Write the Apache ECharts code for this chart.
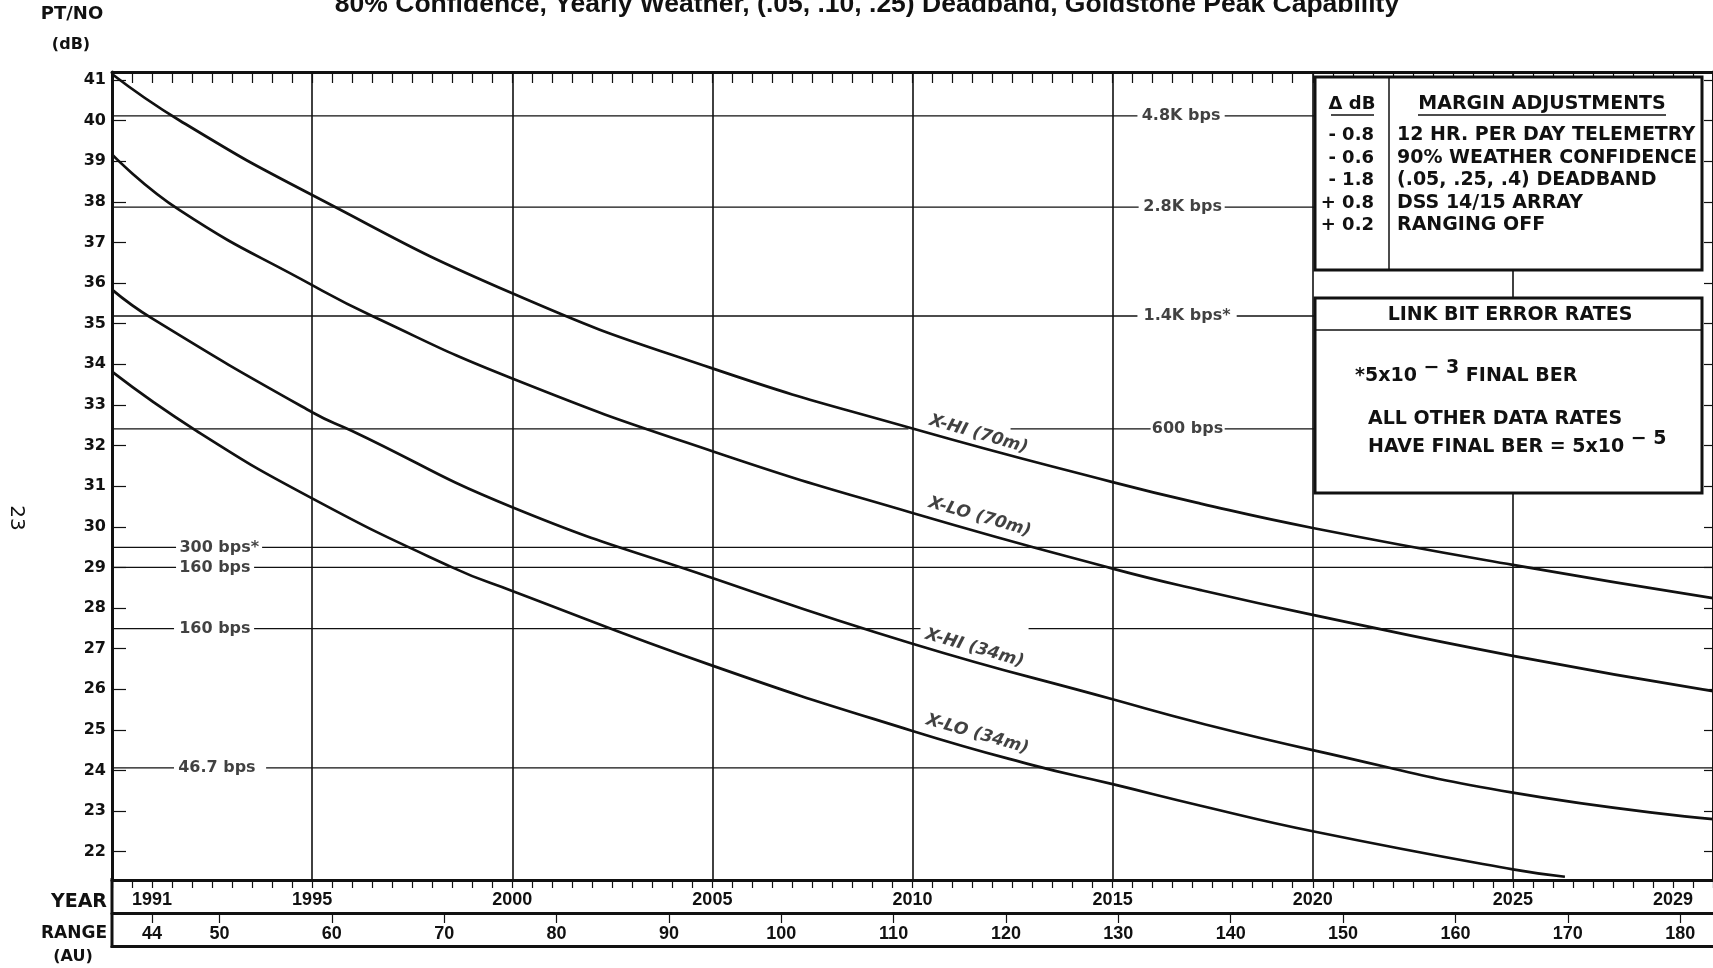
<!DOCTYPE html>
<html><head><meta charset="utf-8">
<script src="https://cdn.jsdelivr.net/npm/echarts@6/dist/echarts.min.js"></script>
<style>html,body{margin:0;padding:0;background:#fff}#c{width:1713px;height:968px}</style>
</head><body><div id="c"></div>
<script>
// ---------------- DATA ----------------
const curveNames = ['X-HI (70m)', 'X-LO (70m)', 'X-HI (34m)', 'X-LO (34m)'];
const xhi70Years = [1990, 1991.7, 1995, 2000, 2005, 2010, 2015, 2017.2, 2020, 2025, 2030];
const xhi70Db    = [41.15, 40.0, 38.17, 35.75, 33.9, 32.42, 31.1, 30.57, 29.97, 29.06, 28.24];
const xlo70Years = [1990, 1991.7, 1995, 1996.5, 2000, 2005, 2010, 2015, 2017.2, 2020, 2025, 2030];
const xlo70Db    = [39.17, 37.79, 35.95, 35.19, 33.65, 31.86, 30.34, 28.97, 28.44, 27.83, 26.82, 25.95];
const xhi34Years = [1990, 1991, 1995, 1996, 2000, 2005, 2010, 2015, 2017.2, 2020, 2025, 2030];
const xhi34Db    = [35.84, 35.13, 32.82, 32.36, 30.48, 28.74, 27.12, 25.75, 25.16, 24.5, 23.45, 22.8];
const xlo34Years = [1990, 1992.1, 1995, 1998.5, 2000, 2005, 2010, 2013, 2015, 2017.2, 2020, 2025, 2026.3];
const xlo34Db    = [33.82, 32.37, 30.7, 29.0, 28.42, 26.58, 24.97, 24.13, 23.66, 23.13, 22.5, 21.56, 21.38];

const rateNames = ['4.8K bps', '2.8K bps', '1.4K bps*', '600 bps', '300 bps*', '160 bps', '160 bps', '46.7 bps'];
const rateDb    = [40.12, 37.87, 35.19, 32.41, 29.49, 29.0, 27.49, 24.06];

const yTickValues  = [22,23,24,25,26,27,28,29,30,31,32,33,34,35,36,37,38,39,40,41];
const yearLabels   = [1991, 1995, 2000, 2005, 2010, 2015, 2020, 2025, 2029];
const rangeLabels  = [44, 50, 60, 70, 80, 90, 100, 110, 120, 130, 140, 150, 160, 170, 180];
// range axis extents (AU) at the year-axis ends 1990 and 2030
const RANGE_AT_1990 = 40.44, RANGE_AT_2030 = 182.92;

const marginDb   = ['- 0.8', '- 0.6', '- 1.8', '+ 0.8', '+ 0.2'];
const marginText = ['12 HR. PER DAY TELEMETRY', '90% WEATHER CONFIDENCE', '(.05, .25, .4) DEADBAND', 'DSS 14/15 ARRAY', 'RANGING OFF'];

const TITLE = '80% Confidence, Yearly Weather, (.05, .10, .25) Deadband, Goldstone Peak Capability';

// ---------------- LAYOUT (positions, not data) ----------------
const rateLayout = [
  {segs: [[1990, 2015.62], [2017.8, 2020.05]], lx: 2016.71},
  {segs: [[1990, 2015.65], [2017.8, 2020.05]], lx: 2016.75},
  {segs: [[1990, 2015.62], [2018.1, 2020.05]], lx: 2016.86},
  {segs: [[1990, 2009.9], [2012.45, 2015.95], [2017.8, 2020.05]], lx: 2016.87},
  {segs: [[1990, 1991.6], [1993.75, 2030]], lx: 1992.68},
  {segs: [[1990, 1991.6], [1993.55, 2030]], lx: 1992.57},
  {segs: [[1990, 1991.55], [1993.55, 2010.2], [2012.9, 2030]], lx: 1992.57},
  {segs: [[1990, 1991.55], [1993.85, 2030]], lx: 1992.62}
];
const curveLabelPos = [[2011.65, 32.28], [2011.68, 30.24], [2011.55, 27.01], [2011.62, 24.89]];

const INK = '#111';
const zip = (xs, ys) => xs.map((x, i) => [x, ys[i]]);

const series = [];
const curves = [[xhi70Years, xhi70Db], [xlo70Years, xlo70Db], [xhi34Years, xhi34Db], [xlo34Years, xlo34Db]];
curves.forEach((c, i) => {
  series.push({
    name: curveNames[i], type: 'line', data: zip(c[0], c[1]), showSymbol: false, symbol: 'none',
    smooth: 0.5, silent: true, z: 5,
    lineStyle: {color: INK, width: 2.7}
  });
});
rateDb.forEach((v, i) => {
  rateLayout[i].segs.forEach(s => {
    series.push({type: 'line', data: [[s[0], v], [s[1], v]], symbol: 'none', silent: true, z: 3,
      lineStyle: {color: INK, width: 1.3}});
  });
  series.push({
    type: 'scatter', data: [[rateLayout[i].lx, v]], symbolSize: 1, silent: true, z: 4,
    itemStyle: {color: 'rgba(0,0,0,0)'},
    label: {show: true, position: 'inside', formatter: () => rateNames[i], color: INK,
      fontFamily: 'DejaVu Sans', fontWeight: 'bold', fontSize: 16}
  });
});
curveNames.forEach((n, i) => {
  series.push({
    type: 'scatter', data: [curveLabelPos[i]], symbolSize: 1, silent: true, z: 6,
    itemStyle: {color: 'rgba(0,0,0,0)'},
    label: {show: true, position: 'inside', rotate: -16, formatter: () => n, color: INK,
      fontFamily: 'DejaVu Sans', fontStyle: 'italic', fontWeight: 'bold', fontSize: 17}
  });
});

const noSplit = {show: false};
const boldSans = {fontFamily: 'DejaVu Sans', fontWeight: 'bold', fill: INK};
const supRich = {
  n: {fontFamily: 'DejaVu Sans', fontWeight: 'bold', fontSize: 19, fill: INK, lineHeight: 27, verticalAlign: 'bottom'},
  s: {fontFamily: 'DejaVu Sans', fontWeight: 'bold', fontSize: 19, fill: INK, lineHeight: 15, verticalAlign: 'top'}
};

const graphic = [
  {type: 'text', x: 867, y: 5, z: 50, style: {text: TITLE, fontFamily: 'Liberation Sans', fontWeight: 'bold', fontSize: 26.5, fill: INK, align: 'center', verticalAlign: 'middle'}},
  {type: 'text', x: 72, y: 14, z: 50, style: Object.assign({text: 'PT/NO', fontSize: 18, align: 'center', verticalAlign: 'middle'}, boldSans)},
  {type: 'text', x: 71, y: 45, z: 50, style: Object.assign({text: '(dB)', fontSize: 16, align: 'center', verticalAlign: 'middle'}, boldSans)},
  {type: 'text', x: 107, y: 902, z: 50, style: Object.assign({text: 'YEAR', fontSize: 19, align: 'right', verticalAlign: 'middle'}, boldSans)},
  {type: 'text', x: 107, y: 934, z: 50, style: Object.assign({text: 'RANGE', fontSize: 17, align: 'right', verticalAlign: 'middle'}, boldSans)},
  {type: 'text', x: 73, y: 957, z: 50, style: Object.assign({text: '(AU)', fontSize: 16, align: 'center', verticalAlign: 'middle'}, boldSans)},
  {type: 'text', x: 16, y: 518, rotation: -Math.PI / 2, z: 50, style: {text: '23', fontFamily: 'DejaVu Sans', fontSize: 20, fill: INK, align: 'center', verticalAlign: 'middle'}},
  {type: 'line', z: 50, shape: {x1: 112, y1: 878, x2: 112, y2: 948}, style: {stroke: INK, lineWidth: 3}},
  // Margin adjustments box
  {type: 'rect', z: 60, shape: {x: 1315, y: 77, width: 387, height: 193}, style: {fill: '#fff', stroke: INK, lineWidth: 3}},
  {type: 'line', z: 61, shape: {x1: 1389, y1: 77, x2: 1389, y2: 270}, style: {stroke: INK, lineWidth: 1.5}},
  {type: 'text', x: 1352, y: 104, z: 61, style: Object.assign({text: 'Δ dB', fontSize: 18, align: 'center', verticalAlign: 'middle'}, boldSans)},
  {type: 'line', z: 61, shape: {x1: 1331, y1: 115, x2: 1374, y2: 115}, style: {stroke: INK, lineWidth: 1.5}},
  {type: 'text', x: 1542, y: 104, z: 61, style: Object.assign({text: 'MARGIN ADJUSTMENTS', fontSize: 19, align: 'center', verticalAlign: 'middle'}, boldSans)},
  {type: 'line', z: 61, shape: {x1: 1418, y1: 115, x2: 1666, y2: 115}, style: {stroke: INK, lineWidth: 1.5}},
  // Link BER box
  {type: 'rect', z: 60, shape: {x: 1315, y: 298, width: 387, height: 195}, style: {fill: '#fff', stroke: INK, lineWidth: 3}},
  {type: 'line', z: 61, shape: {x1: 1315, y1: 330, x2: 1702, y2: 330}, style: {stroke: INK, lineWidth: 1.5}},
  {type: 'text', x: 1510, y: 315, z: 61, style: Object.assign({text: 'LINK BIT ERROR RATES', fontSize: 19, align: 'center', verticalAlign: 'middle'}, boldSans)},
  {type: 'text', x: 1355, y: 372, z: 61, style: {text: '{n|*5x10 }{s|− 3}{n| FINAL BER}', align: 'left', verticalAlign: 'middle', rich: supRich}},
  {type: 'text', x: 1368, y: 419, z: 61, style: Object.assign({text: 'ALL OTHER DATA RATES', fontSize: 19, align: 'left', verticalAlign: 'middle'}, boldSans)},
  {type: 'text', x: 1368, y: 443, z: 61, style: {text: '{n|HAVE FINAL BER = 5x10 }{s|− 5}', align: 'left', verticalAlign: 'middle', rich: supRich}}
];
const rowY = [135, 158, 180, 203, 225];
marginDb.forEach((d, i) => {
  graphic.push({type: 'text', x: 1374, y: rowY[i], z: 61, style: Object.assign({text: d, fontSize: 18, align: 'right', verticalAlign: 'middle'}, boldSans)});
  graphic.push({type: 'text', x: 1397, y: rowY[i], z: 61, style: Object.assign({text: marginText[i], fontSize: 19, align: 'left', verticalAlign: 'middle'}, boldSans)});
});

const option = {
  animation: false,
  backgroundColor: '#fff',
  grid: {left: 112, top: 72, right: 0, bottom: 88},
  xAxis: [
    {type: 'value', position: 'bottom', min: 1990, max: 2030, interval: 0.5,
      axisLine: {show: true, onZero: false, lineStyle: {color: INK, width: 3}},
      axisTick: {show: true, inside: false, length: 8, lineStyle: {color: INK, width: 1.2}},
      axisLabel: {show: true, customValues: yearLabels, margin: 11, color: INK, fontFamily: 'Liberation Sans', fontWeight: 'bold', fontSize: 18, formatter: v => String(v)},
      splitLine: noSplit},
    {type: 'value', position: 'top', min: 1990, max: 2030, interval: 0.5,
      axisLine: {show: true, onZero: false, lineStyle: {color: INK, width: 3}},
      axisTick: {show: true, inside: true, length: 11, lineStyle: {color: INK, width: 1.2}},
      axisLabel: {show: false}, splitLine: noSplit},
    {type: 'value', position: 'bottom', min: 1990, max: 2030, interval: 5,
      axisLine: {show: false}, axisTick: {show: false}, axisLabel: {show: false},
      splitLine: {show: true, lineStyle: {color: INK, width: 1.6}}},
    {type: 'value', position: 'bottom', offset: 33, min: RANGE_AT_1990, max: RANGE_AT_2030,
      axisLine: {show: true, onZero: false, lineStyle: {color: INK, width: 3}},
      axisTick: {show: true, inside: false, length: 10, customValues: rangeLabels, lineStyle: {color: INK, width: 1.2}},
      axisLabel: {show: true, customValues: rangeLabels, margin: 12, color: INK, fontFamily: 'Liberation Sans', fontWeight: 'bold', fontSize: 18, formatter: v => String(v)},
      splitLine: noSplit},
    {type: 'value', position: 'bottom', offset: 66, min: RANGE_AT_1990, max: RANGE_AT_2030,
      axisLine: {show: true, onZero: false, lineStyle: {color: INK, width: 3}},
      axisTick: {show: false}, axisLabel: {show: false}, splitLine: noSplit}
  ],
  yAxis: [
    {type: 'value', position: 'left', min: 21.3, max: 41.2,
      axisLine: {show: true, onZero: false, lineStyle: {color: INK, width: 3}},
      axisTick: {show: true, inside: true, length: 14, customValues: yTickValues, lineStyle: {color: INK, width: 1.2}},
      axisLabel: {show: true, customValues: yTickValues, margin: 6, color: INK, fontFamily: 'DejaVu Sans', fontWeight: 'bold', fontSize: 16, formatter: v => String(v)},
      splitLine: noSplit},
    {type: 'value', position: 'right', min: 21.3, max: 41.2,
      axisLine: {show: true, onZero: false, lineStyle: {color: INK, width: 3}},
      axisTick: {show: true, inside: true, length: 9, customValues: yTickValues, lineStyle: {color: INK, width: 1.2}},
      axisLabel: {show: false}, splitLine: noSplit}
  ],
  series: series,
  graphic: graphic
};

const chart = echarts.init(document.getElementById('c'), null, {renderer: 'canvas'});
chart.setOption(option);
</script>
</body></html>
